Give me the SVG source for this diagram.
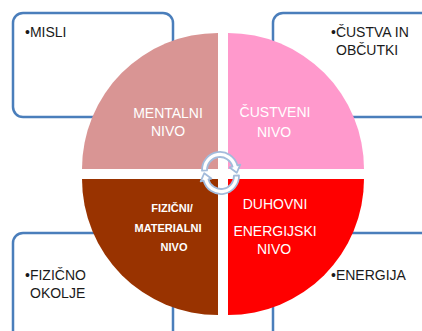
<svg xmlns="http://www.w3.org/2000/svg" width="422" height="331" viewBox="0 0 422 331">
<style>
.box{fill:#fff;stroke:#4A7EBB;stroke-width:2.5}
.bt{font-family:"Liberation Sans",Arial,sans-serif;font-size:14px;fill:#1a1a1a}
.ct{font-family:"Liberation Sans",Arial,sans-serif;font-size:14px;fill:#fff;text-anchor:middle}
.cb{font-family:"Liberation Sans",Arial,sans-serif;font-size:11px;font-weight:bold;fill:#fff;text-anchor:middle}
.arr{fill:#fff;stroke:#A3BBDB;stroke-width:1.8;stroke-linejoin:round}
</style>
<rect width="422" height="331" fill="#fff"/>
<g id="box-misli"><rect class="box" x="13" y="13" width="160" height="104" rx="10"/><text class="bt" x="25" y="37">•MISLI</text></g>
<g id="box-custva"><rect class="box" x="273" y="13" width="170" height="104" rx="10"/><text class="bt" x="331" y="37">•ČUSTVA IN</text><text class="bt" x="336" y="55">OBČUTKI</text></g>
<g id="box-fizicno"><rect class="box" x="13" y="233" width="160" height="120" rx="10"/><text class="bt" x="25" y="280">•FIZIČNO</text><text class="bt" x="30" y="298">OKOLJE</text></g>
<g id="box-energija"><rect class="box" x="273" y="233" width="170" height="120" rx="10"/><text class="bt" x="331" y="280">•ENERGIJA</text></g>
<g id="q-mentalni"><path d="M218,169 L82,169 A136,136 0 0 1 218,33 Z" fill="#D99594"/><text class="ct" x="168" y="118">MENTALNI</text><text class="ct" x="168" y="136">NIVO</text></g>
<g id="q-custveni"><path d="M228,169 L228,33 A136,136 0 0 1 364,169 Z" fill="#FF99CC"/><text class="ct" x="275" y="117">ČUSTVENI</text><text class="ct" x="274" y="137">NIVO</text></g>
<g id="q-fizicni"><path d="M218,179 L218,315 A136,136 0 0 1 82,179 Z" fill="#993300"/><text class="cb" x="172" y="212">FIZIČNI/</text><text class="cb" x="168" y="232">MATERIALNI</text><text class="cb" x="174" y="251">NIVO</text></g>
<g id="q-duhovni"><path d="M228,179 L364,179 A136,136 0 0 1 228,315 Z" fill="#FF0000"/><text class="ct" x="275" y="209">DUHOVNI</text><text class="ct" x="275" y="236">ENERGIJSKI</text><text class="ct" x="274" y="254">NIVO</text></g>
<g id="connectors">
<path class="arr" d="M202.01,170.63 A18,18 0 0 1 237.39,165.34 L240.28,164.56 L236.78,172.75 L229.66,167.41 L232.56,166.64 A13,13 0 0 0 207.01,170.45 Z"/>
<path class="arr" transform="rotate(180 220.5 173)" d="M202.01,170.63 A18,18 0 0 1 237.39,165.34 L240.28,164.56 L236.78,172.75 L229.66,167.41 L232.56,166.64 A13,13 0 0 0 207.01,170.45 Z"/>
</g>
</svg>
